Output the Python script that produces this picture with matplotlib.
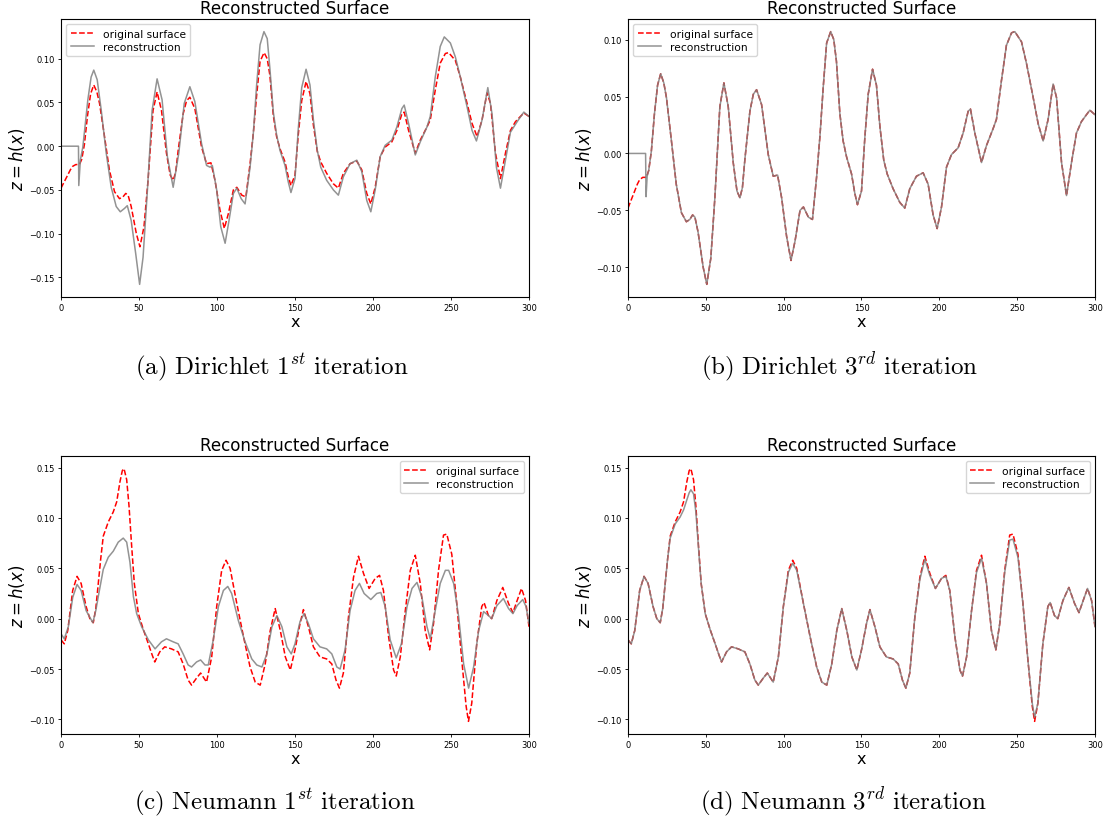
import matplotlib
matplotlib.use("Agg")
import matplotlib.pyplot as plt

plt.rcParams['mathtext.fontset'] = 'dejavusans'

# ---------------- data ----------------
xticks = [0, 50, 100, 150, 200, 250, 300]

# Dirichlet original surface
orig1_x = [0, 2, 4.3, 6, 7.5, 9.5, 11.8, 13.3, 15, 17, 19, 21, 23, 24.7, 27.9, 31, 34.3, 37.5, 39.7,
           41.5, 43, 45, 48.3, 50.6, 53.2, 55.8, 59, 61.6, 64.4, 67.6, 70, 71.9, 73.5, 75.1, 78.3, 80.5,
           82.6, 85.8, 90.1, 93.3, 96.1, 98.7, 101.9, 104.7, 107.3, 110.5, 112.7, 115.9, 118.5, 121.2,
           123.3, 125.4, 127.6, 130.2, 132.2, 133.9, 136.1, 138.2, 140.4, 143.6, 145.7, 147.4, 150,
           152.1, 154.3, 157.1, 159.6, 161.8, 164.3, 166.5, 170.3, 174.6, 177.8, 181, 185.3, 189.6,
           192.8, 196, 198.6, 201.4, 204.6, 207.8, 212.1, 215.3, 218.5, 220, 222.8, 227.1, 230.3, 234.6,
           236.7, 239.9, 243.1, 246.4, 248.5, 252.8, 256, 260.3, 263.5, 266.7, 269.9, 273.1, 275.3,
           278.5, 281.7, 284.9, 288.1, 291.3, 294.5, 296.7, 300]
orig1_y = [-0.048, -0.041, -0.033, -0.027, -0.023, -0.021, -0.021, -0.015, 0.002, 0.035, 0.060, 0.070,
           0.062, 0.049, 0.011, -0.027, -0.052, -0.060, -0.058, -0.054, -0.056, -0.069, -0.100, -0.115,
           -0.092, -0.039, 0.041, 0.062, 0.041, -0.008, -0.033, -0.039, -0.030, -0.005, 0.037, 0.052,
           0.056, 0.043, -0.001, -0.020, -0.019, -0.039, -0.073, -0.094, -0.077, -0.050, -0.047, -0.056,
           -0.058, -0.020, 0.015, 0.058, 0.097, 0.107, 0.100, 0.081, 0.035, 0.011, -0.003, -0.018,
           -0.035, -0.045, -0.033, 0.013, 0.052, 0.074, 0.060, 0.024, -0.006, -0.018, -0.031, -0.043,
           -0.048, -0.031, -0.020, -0.017, -0.027, -0.054, -0.066, -0.047, -0.012, -0.001, 0.005, 0.018,
           0.037, 0.039, 0.018, -0.008, 0.007, 0.022, 0.030, 0.064, 0.095, 0.106, 0.107, 0.098, 0.079,
           0.049, 0.026, 0.011, 0.030, 0.061, 0.049, -0.008, -0.037, -0.008, 0.018, 0.028, 0.034, 0.038,
           0.034]

# Dirichlet reconstruction, 1st iteration
recA_x = [0, 11.2, 11.4, 12.4, 14, 17.2, 19.3, 21, 23.2, 25.8, 29, 32.2, 35.4, 38, 40.8, 42.5, 45, 47.9,
          50.4, 52.6, 55.4, 58.4, 61.6, 64.8, 68.2, 71.9, 75.5, 79, 82.6, 85.8, 90.1, 93.3, 95.5, 97,
          99.8, 102.4, 105.2, 107.7, 110.5, 112.7, 115.5, 118, 121.2, 123.3, 125.4, 127.6, 130.1, 132.2,
          133.9, 136.1, 138.2, 140.4, 143.6, 145.7, 147.4, 150, 152.1, 154.3, 157.1, 159.6, 161.8,
          164.3, 166.5, 170.3, 174.6, 177.8, 181, 185.3, 189.6, 192.8, 196, 198.6, 201.4, 204.6, 207.8,
          212.1, 215.3, 218.5, 220, 222.8, 227.1, 230.3, 234.6, 236.7, 239.9, 243.1, 245.7, 249.6,
          252.8, 256, 260.3, 263.5, 266.3, 269.9, 273.6, 276.3, 279.1, 281.7, 284.9, 288.1, 292.4,
          296.7, 300]
recA_y = [0.0, 0.0, -0.045, -0.016, -0.001, 0.053, 0.079, 0.087, 0.076, 0.041, -0.008, -0.047, -0.069,
          -0.075, -0.071, -0.068, -0.085, -0.123, -0.158, -0.127, -0.050, 0.041, 0.077, 0.053, -0.012,
          -0.047, -0.008, 0.049, 0.068, 0.051, 0.003, -0.022, -0.024, -0.022, -0.050, -0.092, -0.111,
          -0.085, -0.054, -0.048, -0.060, -0.066, -0.024, 0.015, 0.070, 0.116, 0.131, 0.123, 0.089,
          0.039, 0.013, -0.005, -0.022, -0.041, -0.053, -0.037, 0.020, 0.067, 0.088, 0.070, 0.030,
          -0.005, -0.024, -0.039, -0.050, -0.056, -0.035, -0.020, -0.016, -0.029, -0.062, -0.075,
          -0.050, -0.012, 0.001, 0.007, 0.022, 0.043, 0.047, 0.026, -0.010, 0.005, 0.022, 0.034, 0.079,
          0.114, 0.125, 0.118, 0.102, 0.079, 0.045, 0.018, 0.006, 0.030, 0.067, 0.037, -0.024, -0.048,
          -0.016, 0.016, 0.028, 0.039, 0.034]

# Dirichlet reconstruction, 3rd iteration: start segment, then it lies on the original surface
recB_head_x = [0, 11.3, 11.6, 12.3]
recB_head_y = [0.0, 0.0, -0.038, -0.020]

# Neumann original surface
orig2_x = [0, 2.1, 4.3, 7.5, 10.3, 12.9, 16.1, 18.5, 20.7, 22.3, 23.9, 25.5, 27.1, 30.3, 33.5, 35.7,
           37.8, 39.3, 40.4, 42.1, 43.6, 45.3, 47, 49.6, 52.8, 56, 58.2, 60.1, 63.3, 66.5, 70.8, 75.1,
           78.3, 81.5, 83.7, 86.9, 89.5, 93.3, 96.6, 99.8, 103, 105.8, 108.4, 112.7, 117, 121.2, 124.5,
           127.7, 130.9, 134.1, 137.3, 140.6, 143.8, 147, 150, 153.2, 155.4, 158.6, 161.8, 166, 170.3,
           173.6, 176.3, 178.5, 181, 184.3, 187.5, 190.7, 193.9, 197.5, 201.4, 204.2, 206.7, 210, 213.2,
           214.9, 217.5, 220.7, 223.9, 227.1, 230.3, 233.5, 236.3, 238.8, 242, 245.2, 247.3, 250.5,
           253.7, 256.9, 259.7, 261.2, 263.3, 266.5, 269.7, 271.2, 274, 276.1, 279.4, 283.2, 286.9,
           289.7, 292.4, 295.2, 297.8, 300]
orig2_y = [-0.021, -0.025, -0.012, 0.028, 0.042, 0.035, 0.012, 0.000, -0.004, 0.010, 0.035, 0.060, 0.082,
           0.096, 0.106, 0.116, 0.136, 0.147, 0.149, 0.138, 0.112, 0.072, 0.035, 0.005, -0.011, -0.025,
           -0.035, -0.043, -0.033, -0.028, -0.030, -0.033, -0.045, -0.061, -0.066, -0.059, -0.054,
           -0.063, -0.038, 0.012, 0.048, 0.058, 0.050, 0.015, -0.018, -0.048, -0.063, -0.066, -0.045,
           -0.012, 0.010, -0.012, -0.038, -0.051, -0.031, -0.005, 0.009, -0.008, -0.028, -0.038, -0.040,
           -0.045, -0.061, -0.069, -0.054, 0.002, 0.041, 0.062, 0.045, 0.030, 0.040, 0.043, 0.028,
           -0.018, -0.051, -0.057, -0.038, 0.008, 0.048, 0.063, 0.035, -0.012, -0.031, -0.005, 0.048,
           0.083, 0.084, 0.064, 0.015, -0.041, -0.087, -0.102, -0.084, -0.025, 0.012, 0.016, 0.003,
           0.000, 0.018, 0.031, 0.015, 0.006, 0.018, 0.030, 0.018, -0.008]

# Neumann reconstruction, 1st iteration
recC_x = [0, 2.1, 4.7, 7.5, 10.3, 12.9, 16.1, 20.4, 22.3, 23.9, 27.1, 30.3, 33.5, 36.7, 39.9, 42.1, 44.2,
          46.4, 48.5, 51.7, 56, 60.3, 64.4, 67.6, 71.9, 75.1, 78.3, 81.5, 83.7, 86.9, 89.5, 92.3, 94.4,
          97.6, 100.9, 104.1, 106.9, 109.4, 113.7, 118, 122.3, 125.5, 128.8, 132, 135.2, 138.4, 141.6,
          144.8, 147.6, 150, 153.2, 155.8, 158.6, 161.8, 166, 170.3, 173.6, 176.8, 178.9, 182.1, 185.3,
          188.5, 191.3, 194.3, 198.6, 202.4, 205, 207.8, 211, 214.9, 218.2, 221.8, 225, 228.2, 231.4,
          234.6, 236.7, 239.9, 243.1, 246.4, 248.5, 251.7, 254.9, 258.1, 261.3, 264.5, 267.7, 270.9,
          274.1, 276.1, 279.4, 283.6, 286.9, 289.7, 292.4, 296, 298.1, 300]
recC_y = [-0.015, -0.020, -0.008, 0.021, 0.034, 0.028, 0.008, -0.004, 0.008, 0.022, 0.049, 0.061, 0.067,
          0.076, 0.080, 0.076, 0.056, 0.022, 0.005, -0.008, -0.021, -0.030, -0.023, -0.020, -0.023,
          -0.025, -0.035, -0.046, -0.048, -0.043, -0.041, -0.046, -0.046, -0.021, 0.012, 0.028, 0.032,
          0.025, -0.002, -0.023, -0.040, -0.046, -0.048, -0.035, -0.008, 0.003, -0.008, -0.028, -0.035,
          -0.025, -0.003, 0.005, -0.005, -0.020, -0.028, -0.030, -0.035, -0.048, -0.050, -0.031, 0.008,
          0.028, 0.035, 0.025, 0.019, 0.025, 0.026, 0.012, -0.021, -0.039, -0.025, 0.012, 0.030, 0.036,
          0.021, -0.008, -0.020, 0.008, 0.035, 0.048, 0.048, 0.035, 0.002, -0.045, -0.069, -0.048,
          -0.012, 0.007, 0.003, 0.000, 0.013, 0.020, 0.010, 0.005, 0.013, 0.019, 0.012, -0.005]

# Neumann reconstruction, 3rd iteration (same x samples as the Neumann original)
recD_y = [-0.021, -0.025, -0.012, 0.028, 0.042, 0.035, 0.012, 0.000, -0.004, 0.010, 0.035, 0.060, 0.080,
          0.094, 0.101, 0.108, 0.118, 0.125, 0.128, 0.124, 0.106, 0.070, 0.035, 0.005, -0.011, -0.025,
          -0.035, -0.043, -0.033, -0.028, -0.030, -0.033, -0.045, -0.061, -0.066, -0.059, -0.054,
          -0.063, -0.038, 0.012, 0.046, 0.055, 0.048, 0.015, -0.018, -0.048, -0.063, -0.066, -0.045,
          -0.012, 0.010, -0.012, -0.038, -0.051, -0.031, -0.005, 0.009, -0.008, -0.028, -0.038, -0.040,
          -0.045, -0.061, -0.069, -0.054, 0.002, 0.039, 0.059, 0.043, 0.030, 0.040, 0.042, 0.028,
          -0.018, -0.051, -0.057, -0.038, 0.008, 0.046, 0.060, 0.035, -0.012, -0.031, -0.005, 0.046,
          0.078, 0.079, 0.061, 0.015, -0.041, -0.084, -0.098, -0.084, -0.025, 0.012, 0.016, 0.003,
          0.000, 0.018, 0.031, 0.015, 0.006, 0.018, 0.030, 0.018, -0.008]

captions = [r'$\mathrm{(a)\ Dirichlet\ 1}^{st}\mathrm{\ iteration}$',
            r'$\mathrm{(b)\ Dirichlet\ 3}^{rd}\mathrm{\ iteration}$',
            r'$\mathrm{(c)\ Neumann\ 1}^{st}\mathrm{\ iteration}$',
            r'$\mathrm{(d)\ Neumann\ 3}^{rd}\mathrm{\ iteration}$']

# recB tail lies on the original surface
recB_x = recB_head_x + [x for x in orig1_x if x > 12.3]
recB_y = recB_head_y + [y for x, y in zip(orig1_x, orig1_y) if x > 12.3]

panels = [
    (orig1_x, orig1_y, recA_x, recA_y, 'upper left'),
    (orig1_x, orig1_y, recB_x, recB_y, 'upper left'),
    (orig2_x, orig2_y, recC_x, recC_y, 'upper right'),
    (orig2_x, orig2_y, orig2_x, recD_y, 'upper right'),
]

# ---------------- figure ----------------
W, H = 1109, 820
fig = plt.figure(figsize=(W / 100, H / 100), dpi=100)

boxes = [(61, 20, 529, 298), (628, 20, 1095, 298), (61, 457, 529, 735), (628, 457, 1095, 735)]
cap_pos = [(272, 367), (840, 367), (275, 802), (843, 802)]

for (ox, oy, rx, ry, loc), (l, t, r, b), cap, (cx, cy) in zip(panels, boxes, captions, cap_pos):
    ax = fig.add_axes([l / W, 1 - b / H, (r - l) / W, (b - t) / H])
    ax.plot(ox, oy, 'r--', lw=1.1, label='original surface')
    ax.plot(rx, ry, color='gray', lw=1.1, alpha=0.85, label='reconstruction')
    ax.set_xlim(0, 300)
    ax.set_xticks(xticks)
    ax.tick_params(labelsize=6, length=2.5, width=0.6, pad=2)
    for s in ax.spines.values():
        s.set_linewidth(0.8)
    ax.set_title('Reconstructed Surface', fontsize=12.1, pad=4)
    ax.set_xlabel('x', fontsize=11.5, labelpad=1)
    ax.set_ylabel('$z = h(x)$', fontsize=12, labelpad=2)
    ax.legend(loc=loc, fontsize=7.7, handlelength=2.2, borderpad=0.4, labelspacing=0.3)
    fig.text(cx / W, 1 - cy / H, cap, fontsize=18, ha='center', va='center',
             math_fontfamily='cm')

fig.savefig('out.png', dpi=100)
